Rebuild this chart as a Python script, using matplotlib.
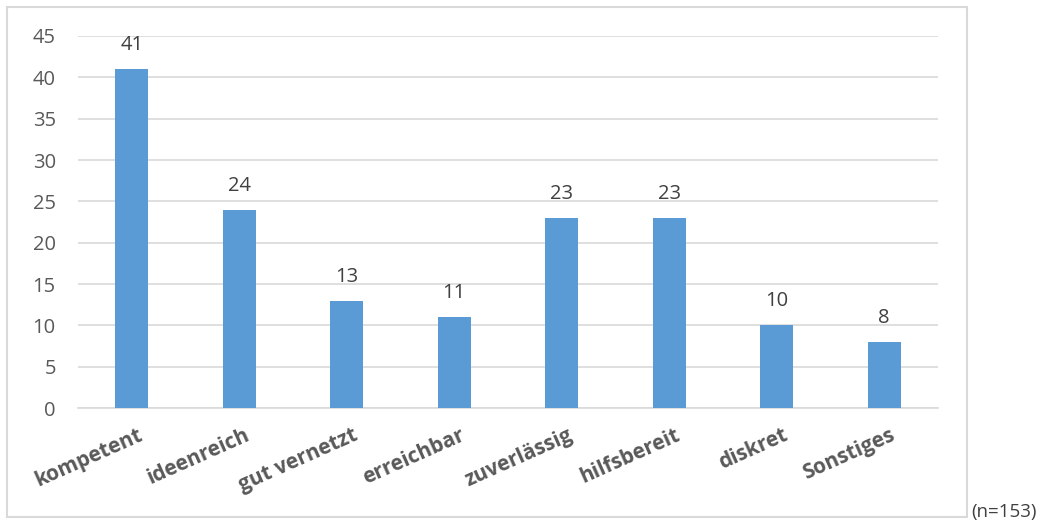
import matplotlib
matplotlib.use("Agg")
import matplotlib.pyplot as plt
from matplotlib.patches import Rectangle

categories = ["kompetent", "ideenreich", "gut vernetzt", "erreichbar",
              "zuverlässig", "hilfsbereit", "diskret", "Sonstiges"]
values = [41, 24, 13, 11, 23, 23, 10, 8]
yticks = [0, 5, 10, 15, 20, 25, 30, 35, 40, 45]
note = "(n=153)"

plt.rcParams["font.family"] = ["Open Sans", "DejaVu Sans"]

W, H = 1040, 520
fig = plt.figure(figsize=(W / 100, H / 100), dpi=100)

# outer chart frame
fig.patches.append(Rectangle((7 / W, 3 / H), 960 / W, 510 / H,
                             transform=fig.transFigure, fill=False,
                             edgecolor="#D9D9D9", linewidth=1.5))

ax = fig.add_axes([78 / W, (H - 408) / H, 860 / W, 372 / H])
x = list(range(len(categories)))
bars = ax.bar(x, values, width=0.31, color="#5B9BD5", zorder=3)

ax.set_xlim(-0.5, len(categories) - 0.5)
ax.set_ylim(0, 45)
ax.set_yticks(yticks)
ax.yaxis.grid(True, color="#D9D9D9", linewidth=1.2, zorder=0)
for s in ["top", "right", "left"]:
    ax.spines[s].set_visible(False)
ax.spines["bottom"].set_color("#D9D9D9")
ax.spines["bottom"].set_linewidth(1.2)
ax.tick_params(axis="both", length=0)
ax.tick_params(axis="y", labelsize=14.5, labelcolor="#595959", pad=16)

ax.set_xticks(x)
ax.set_xticklabels([])
for xi, lab in zip(x, categories):
    ax.annotate(lab, xy=(xi, 0), xycoords="data", xytext=(4, -12),
                textcoords="offset points", rotation=24, ha="right", va="top",
                rotation_mode="anchor", fontsize=15, fontweight="bold",
                fontstyle="normal", color="#595959")

for xi, v in zip(x, values):
    ax.annotate(str(v), xy=(xi, v), xytext=(0, 10), textcoords="offset points",
                ha="center", va="bottom", fontsize=14.5, color="#404040")

fig.text(1037 / W, -1 / H, note, ha="right", va="bottom", fontsize=13.5,
         color="#404040")

fig.savefig("out.png", dpi=100)
